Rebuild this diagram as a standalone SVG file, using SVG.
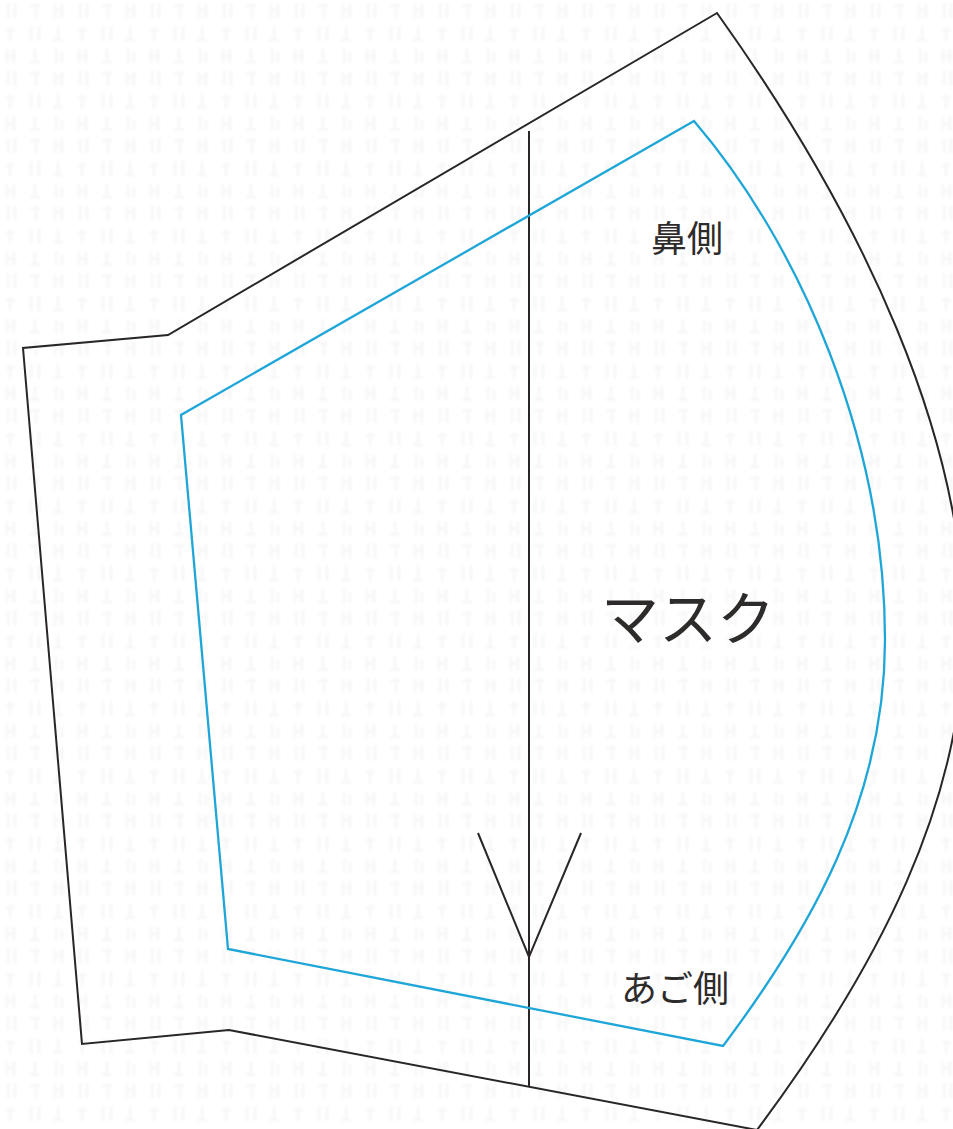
<svg xmlns="http://www.w3.org/2000/svg" width="953" height="1129" viewBox="0 0 953 1129">
<style>
.cut{fill:none;stroke:#2a2626;stroke-width:2;stroke-linejoin:miter}
.sew{fill:none;stroke:#1fa6d8;stroke-width:2.3;stroke-linejoin:miter}
.lbl{font-family:"Noto Sans CJK JP","Noto Sans",sans-serif;fill:#2e2b2b}
</style>
<defs>
<filter id="soft" x="0" y="0" width="100%" height="100%"><feGaussianBlur stdDeviation="1.2"/></filter>
<pattern id="tex" width="72" height="67.5" patternUnits="userSpaceOnUse">
<g fill="none" stroke="#000" stroke-opacity=".03" stroke-width="3">
<path d="M8 3V18M15 3V18"/>
<path d="M36 3V18M30 6H40"/>
<path d="M55 4V18M62 4V18M54 10H63"/>
<path d="M10 27V41M6 30H15"/>
<path d="M31 26V41M39 26V41"/>
<path d="M58 26V41M53 40H63"/>
<path d="M7 49V63M14 49V63M7 56H14"/>
<path d="M35 49V63M30 62H40"/>
<path d="M56 49V63M62 52V63"/>
</g>
</pattern>
</defs>
<rect id="paper" width="953" height="1129" fill="#fff"/>
<rect id="texture" width="953" height="1129" fill="url(#tex)" filter="url(#soft)"/>
<g id="connectors">
<path id="axis" class="cut" d="M529 131V1087"/>
<path id="grain-arrow" class="cut" d="M478 833L529 957L581 833"/>
</g>
<g id="outer-pattern"><path class="cut" d="M717 13L168 335L23 348L82 1044L229 1030L757 1130C880 965 964 800 964 628C964 440 867 223 717 13Z"/></g>
<g id="seam-line"><path class="sew" d="M694 121L181 415L228 949L723 1046C810 930 885 800 885 640C885 440 800 245 694 121Z"/></g>
<g id="label-nose"><text class="lbl" x="651" y="252" font-size="36">鼻側</text></g>
<g id="label-mask"><text class="lbl" x="601" y="640" font-size="58">マスク</text></g>
<g id="label-chin"><text class="lbl" x="621" y="1002" font-size="36">あご側</text></g>
</svg>
